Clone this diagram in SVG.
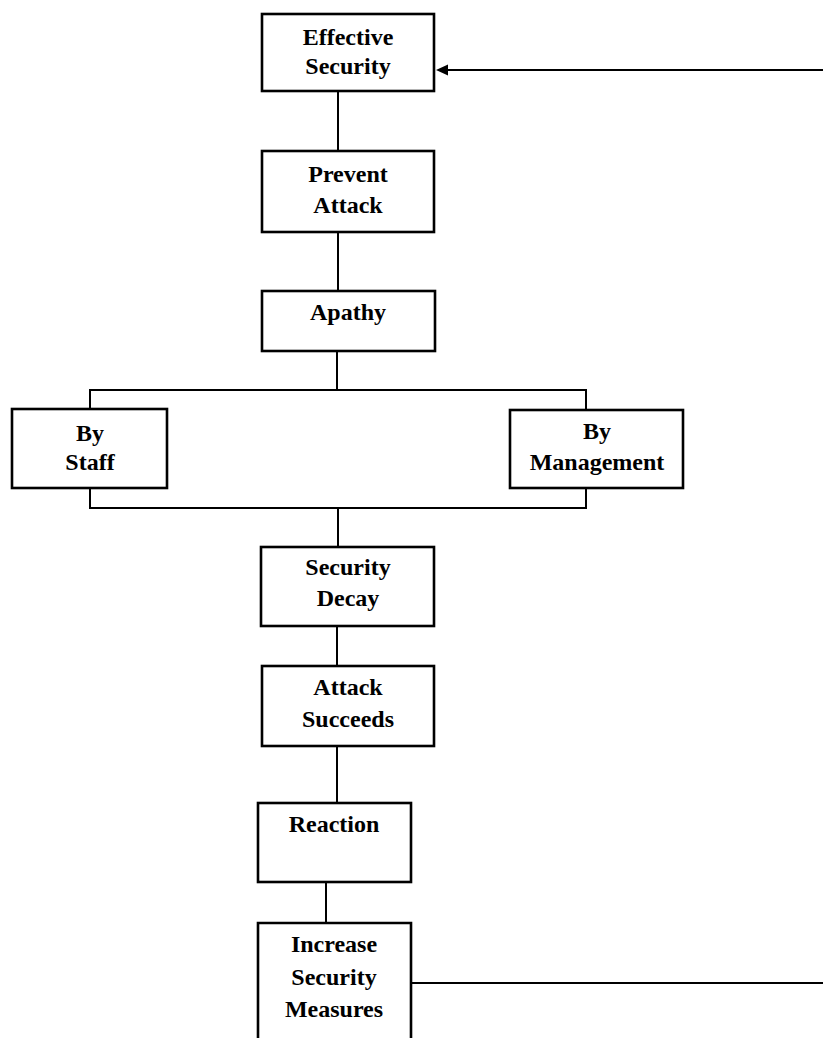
<svg xmlns="http://www.w3.org/2000/svg" width="823" height="1038" viewBox="0 0 823 1038">
<style>
.box{fill:#fff;stroke:#000;stroke-width:2.6}
.ln{fill:none;stroke:#000;stroke-width:2}
text{font-family:"Liberation Serif","Times New Roman",serif;font-size:24px;font-weight:bold;text-anchor:middle;fill:#000}
</style>
<defs>
<marker id="ah" viewBox="0 0 12 12" refX="0" refY="6" markerWidth="12" markerHeight="12" markerUnits="userSpaceOnUse" orient="auto-start-reverse">
<path d="M0,0.5 L12,6 L0,11.5 z" fill="#000"/>
</marker>
</defs>
<rect width="823" height="1038" fill="#fff"/>
<g id="connectors">
<line class="ln" x1="338" y1="91" x2="338" y2="151"/>
<line class="ln" x1="338" y1="232" x2="338" y2="291"/>
<polyline class="ln" points="337,351 337,390 90,390 90,409"/>
<polyline class="ln" points="337,390 586,390 586,410"/>
<polyline class="ln" points="90,488 90,508 586,508 586,488"/>
<line class="ln" x1="338" y1="508" x2="338" y2="547"/>
<line class="ln" x1="337" y1="626" x2="337" y2="666"/>
<line class="ln" x1="337" y1="746" x2="337" y2="803"/>
<line class="ln" x1="326" y1="882" x2="326" y2="923"/>
<line class="ln" x1="411" y1="983" x2="823" y2="983"/>
<line class="ln" x1="823" y1="70" x2="448" y2="70" marker-end="url(#ah)"/>
</g>
<g id="n-effective"><rect class="box" x="262" y="14" width="172" height="77"/><text x="348" y="45">Effective</text><text x="348" y="74">Security</text></g>
<g id="n-prevent"><rect class="box" x="262" y="151" width="172" height="81"/><text x="348" y="182">Prevent</text><text x="348" y="213">Attack</text></g>
<g id="n-apathy"><rect class="box" x="262" y="291" width="173" height="60"/><text x="348" y="320">Apathy</text></g>
<g id="n-staff"><rect class="box" x="12" y="409" width="155" height="79"/><text x="90" y="441">By</text><text x="90" y="470">Staff</text></g>
<g id="n-management"><rect class="box" x="510" y="410" width="173" height="78"/><text x="597" y="439">By</text><text x="597" y="470">Management</text></g>
<g id="n-decay"><rect class="box" x="261" y="547" width="173" height="79"/><text x="348" y="575">Security</text><text x="348" y="606">Decay</text></g>
<g id="n-succeeds"><rect class="box" x="262" y="666" width="172" height="80"/><text x="348" y="695">Attack</text><text x="348" y="727">Succeeds</text></g>
<g id="n-reaction"><rect class="box" x="258" y="803" width="153" height="79"/><text x="334" y="832">Reaction</text></g>
<g id="n-increase"><path class="box" d="M258,1040 L258,923 L411,923 L411,1040"/><text x="334" y="952">Increase</text><text x="334" y="985">Security</text><text x="334" y="1017">Measures</text></g>
</svg>
